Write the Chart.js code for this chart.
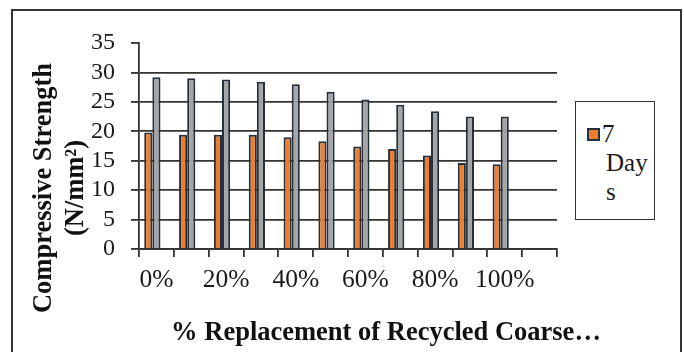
<!DOCTYPE html>
<html>
<head>
<meta charset="utf-8">
<script src="https://cdn.jsdelivr.net/npm/chart.js@4.4.1/dist/chart.umd.min.js"></script>
<style>
  html, body { margin: 0; padding: 0; background: #fff; overflow: hidden; }
  #wrap { position: relative; width: 684px; height: 352px; }
  #frame { position: absolute; left: 11px; top: 9px; width: 671px; height: 400px;
           border: 2px solid #333; box-sizing: border-box; }
  canvas { position: absolute; left: 0; top: 0; }
  #legend { position: absolute; left: 575px; top: 101px; width: 80px; height: 119px;
            border: 1.5px solid #333; box-sizing: border-box; background: #fff;
            font-family: "Liberation Serif", serif; font-size: 25px; color: #1a1a1a; }
  #legend .swatch { position: absolute; left: 11px; top: 26px; width: 13px; height: 13px;
                    background: #ED7D31; border: 2px solid #25303d; box-sizing: border-box; }
  #legend .line { position: absolute; line-height: 29px; white-space: nowrap; }
</style>
</head>
<body>
<div id="wrap">
  <div id="frame"></div>
  <canvas id="chart" width="684" height="352"></canvas>
  <div id="legend">
    <span class="swatch"></span>
    <span class="line" style="left:26px; top:17px;">7</span>
    <span class="line" style="left:30px; top:46px;">Day</span>
    <span class="line" style="left:30px; top:75px;">s</span>
  </div>
</div>
<script>
// Replacement levels of recycled coarse aggregate (last slot left empty)
const categories = ['0%', '10%', '20%', '30%', '40%', '50%', '60%', '70%', '80%', '90%', '100%', ''];
// Compressive strength, N/mm²
const strength7Day  = [19.8, 19.4, 19.4, 19.4, 19.0, 18.3, 17.4, 17.0, 15.9, 14.6, 14.4];
const strength28Day = [29.2, 29.0, 28.8, 28.4, 28.0, 26.7, 25.4, 24.5, 23.4, 22.5, 22.5];
const strengthLater = [];   // third curing age, no results recorded
const yTicks = [0, 5, 10, 15, 20, 25, 30, 35];

const xTitle = '% Replacement of Recycled Coarse\u2026';
const yTitle = ['Compressive Strength', '(N/mm\u00B2)'];

const lineCol = '#333333';
const barEdge = '#25303d';
const serif = '"Liberation Serif", "Times New Roman", serif';

// Axis titles drawn onto the canvas beside the plot
const axisTitles = {
  id: 'axisTitles',
  afterDraw(chart) {
    const ctx = chart.ctx;
    ctx.save();
    ctx.fillStyle = '#111';
    ctx.font = 'bold 26.5px ' + serif;
    ctx.textAlign = 'center';
    ctx.textBaseline = 'middle';
    ctx.fillText(xTitle, 386, 333);
    ctx.translate(44, 188);
    ctx.rotate(-Math.PI / 2);
    ctx.fillText(yTitle[0], 0, 0);
    ctx.fillText(yTitle[1], 0, 32);
    ctx.restore();
  }
};

new Chart(document.getElementById('chart'), {
  type: 'bar',
  data: {
    labels: categories,
    datasets: [
      { label: '7 Days', data: strength7Day, backgroundColor: '#ED7D31',
        borderColor: barEdge, borderWidth: 2 },
      { label: '28 Days', data: strength28Day, backgroundColor: '#A5A5A5',
        borderColor: barEdge, borderWidth: 2 },
      { label: '', data: strengthLater, backgroundColor: '#5B9BD5',
        borderColor: barEdge, borderWidth: 2 }
    ]
  },
  options: {
    responsive: false,
    animation: false,
    devicePixelRatio: 1,
    datasets: { bar: { barPercentage: 1.0, categoryPercentage: 0.7 } },
    layout: { padding: { left: 0, top: 43, right: 127, bottom: 0 } },
    plugins: { legend: { display: false }, tooltip: { enabled: false } },
    scales: {
      x: {
        grid: { offset: true, drawOnChartArea: false, color: lineCol, lineWidth: 1.8, tickLength: 8 },
        border: { color: lineCol, width: 1.8 },
        ticks: {
          autoSkip: false, maxRotation: 0, minRotation: 0, padding: 8,
          color: '#1a1a1a', font: { family: serif, size: 25.5 },
          callback: (v, i) => (i % 2 === 0 ? categories[i] : '')
        },
        afterFit: (s) => { s.height = 103; }
      },
      y: {
        min: 0, max: 35,
        afterBuildTicks: (s) => { s.ticks = yTicks.map(v => ({ value: v })); },
        grid: {
          color: (c) => (c.tick && c.tick.value === 35 ? 'rgba(0,0,0,0)' : lineCol),
          tickColor: lineCol, lineWidth: 1.8, tickLength: 8
        },
        border: { color: lineCol, width: 1.8 },
        ticks: { autoSkip: false, padding: 16, color: '#1a1a1a', font: { family: serif, size: 24 } },
        afterFit: (s) => { s.width = 139; }
      }
    }
  },
  plugins: [axisTitles]
});
</script>
</body>
</html>
